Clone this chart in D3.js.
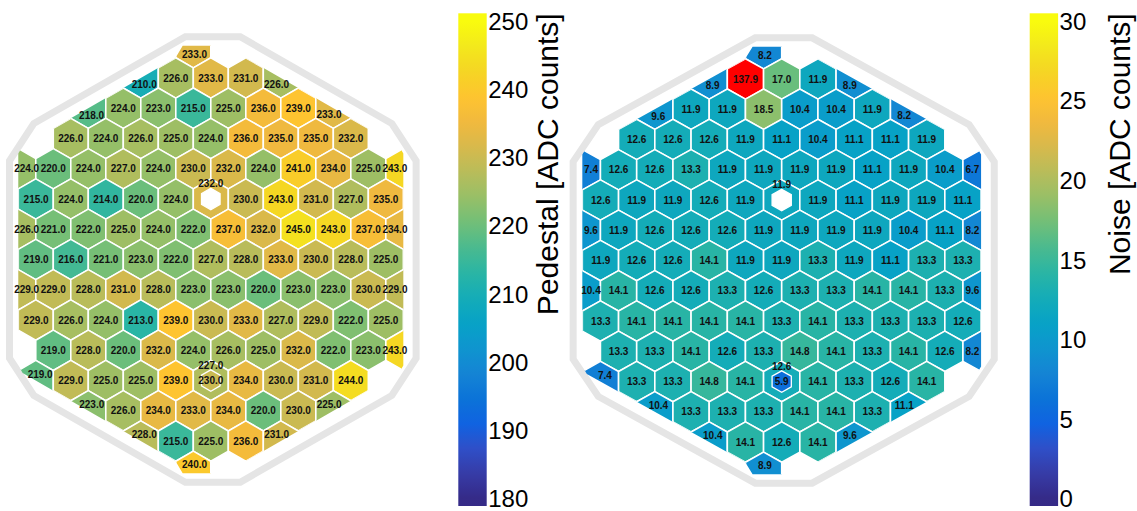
<!DOCTYPE html>
<html><head><meta charset="utf-8">
<script src="https://cdn.jsdelivr.net/npm/d3@7"></script>
<style>body{margin:0;background:#fff}svg{display:block}</style>
</head><body>
<svg id="chart" width="1137" height="511"></svg>
<script>
// ---------------- data ----------------
const rowIds      = [-5,-4,-3,-2,-1, 0, 1, 2, 3, 4, 5, 6, 7, 8, 9];
const rowStartCol = [-1,-2,-4,-4,-6,-5,-6,-5,-6,-5,-5,-5,-4,-2,-1];

const pedestalRows = [
  [233.0],
  [210.0,226.0,233.0,231.0,226.0],
  [218.0,224.0,223.0,215.0,225.0,236.0,239.0,233.0],
  [226.0,224.0,226.0,225.0,224.0,236.0,235.0,235.0,232.0],
  [224.0,220.0,224.0,227.0,224.0,230.0,232.0,224.0,241.0,234.0,225.0,243.0],
  [215.0,224.0,214.0,220.0,224.0,232.0,230.0,243.0,231.0,227.0,235.0],
  [226.0,221.0,222.0,225.0,224.0,222.0,237.0,232.0,245.0,243.0,237.0,234.0],
  [219.0,216.0,221.0,223.0,222.0,227.0,228.0,233.0,230.0,228.0,225.0],
  [229.0,229.0,228.0,231.0,228.0,223.0,223.0,220.0,223.0,223.0,230.0,229.0],
  [229.0,226.0,224.0,213.0,239.0,230.0,233.0,227.0,229.0,222.0,225.0],
  [219.0,228.0,220.0,232.0,224.0,226.0,225.0,232.0,222.0,223.0,243.0],
  [219.0,229.0,225.0,225.0,239.0,227.0,234.0,230.0,231.0,244.0],
  [223.0,226.0,234.0,233.0,234.0,220.0,230.0,225.0],
  [228.0,215.0,225.0,236.0,231.0],
  [240.0]
];

const noiseRows = [
  [8.2],
  [8.9,137.9,17.0,11.9,8.9],
  [9.6,11.9,11.9,18.5,10.4,10.4,11.9,8.2],
  [12.6,12.6,12.6,11.9,11.1,10.4,11.1,11.1,11.9],
  [7.4,12.6,12.6,13.3,11.9,11.9,11.9,11.9,11.1,11.9,10.4,6.7],
  [12.6,11.9,11.9,12.6,11.9,11.9,11.9,11.1,11.9,11.9,11.1],
  [9.6,11.9,12.6,12.6,12.6,11.9,11.9,11.9,11.9,10.4,11.1,8.2],
  [11.9,12.6,12.6,14.1,11.9,11.9,13.3,11.9,11.1,13.3,13.3],
  [10.4,14.1,12.6,12.6,13.3,12.6,13.3,13.3,14.1,14.1,13.3,9.6],
  [13.3,14.1,14.1,14.1,14.1,13.3,14.1,13.3,13.3,13.3,12.6],
  [13.3,13.3,14.1,12.6,13.3,14.8,14.1,13.3,14.1,12.6,8.2],
  [7.4,13.3,13.3,14.8,14.1,12.6,14.1,13.3,12.6,14.1],
  [10.4,13.3,13.3,13.3,14.1,14.1,13.3,11.1],
  [10.4,14.1,12.6,14.1,9.6],
  [8.9]
];

// calibration (small) cells inside big cells
const calibRow = [0, 6];
const calibCol = [0, 0];
const pedestalCalib = [null, 230.0];
const noiseCalib    = [null, 5.9];

const pedestalTicks = [180,190,200,210,220,230,240,250];
const noiseTicks    = [0,5,10,15,20,25,30];
const pedestalTitle = "Pedestal [ADC counts]";
const noiseTitle    = "Noise [ADC counts]";

const parulaStops = ["#352a87","#363ba6","#2f4fc8","#1063e1","#0b73d8","#1484d4","#0f95cf","#07a2c6",
  "#14acb8","#2ab5a4","#4aba8f","#71bf78","#97bf67","#b8bc5a","#d7b94c","#f1b93e","#fec430","#f5d524","#f3e81c","#f9fb0e"];

// ---------------- geometry (lattice units, cell circumradius = 1) ----------------
const SQ3 = Math.sqrt(3);
const HEX = d3.range(6).map(k => { const a = Math.PI / 3 * k - Math.PI / 2; return [Math.cos(a), Math.sin(a)]; });
const SC = [0, 3]; // sensor centre in lattice coords
const clipShape = [[-1.39,-10.6],[1.39,-10.6],[1.75,-9.99],[9.31,-5.625],[9.526,-5.25],[9.526,5.25],[9.31,5.625],
  [1.75,9.99],[1.39,10.6],[-1.39,10.6],[-1.75,9.99],[-9.31,5.625],[-9.526,5.25],[-9.526,-5.25],[-9.31,-5.625],[-1.75,-9.99]]
  .map(([a,b]) => [a + SC[0], b + SC[1]]);
const outlineShape = [[-1.36,-11.04],[1.36,-11.04],[8.86,-6.74],[10.06,-4.89],[10.06,4.89],[8.86,6.74],
  [1.36,11.04],[-1.36,11.04],[-8.86,6.74],[-10.06,4.89],[-10.06,-4.89],[-8.86,-6.74]]
  .map(([a,b]) => [a + SC[0], b + SC[1]]);

const parula = d3.scaleLinear()
  .domain(parulaStops.map((_, i) => i / (parulaStops.length - 1)))
  .range(parulaStops).interpolate(d3.interpolateRgb).clamp(true);

const FONT = "'Liberation Sans', Arial, Helvetica, sans-serif";
const svg = d3.select("#chart");
const defs = svg.append("defs");
const fmt = d3.format(".1f");

const panels = [
  {values: pedestalRows, calib: pedestalCalib, domain: [180, 250], ticks: pedestalTicks, title: pedestalTitle,
   cx: 210.8, cy: 199, kx: 20.21, ky: 20.17, outlineDx: 2, barX: 458.3, titleX: 558.3},
  {values: noiseRows, calib: noiseCalib, domain: [0, 30], ticks: noiseTicks, title: noiseTitle,
   cx: 781.7, cy: 200, kx: 20.93, ky: 20.17, outlineDx: 2, barX: 1029.7, titleX: 1129.7}
];

function centroid(d) {
  const poly = HEX.map(([hx, hy]) => [d.lx + hx, d.ly + hy]);
  let sx = 0, sy = 0, n = 0, tot = 0;
  const N = 30;
  for (let i = 0; i <= N; i++) for (let j = 0; j <= N; j++) {
    const px = d.lx - SQ3 / 2 + SQ3 * i / N, py = d.ly - 1 + 2 * j / N;
    if (!d3.polygonContains(poly, [px, py])) continue;
    tot++;
    if (d3.polygonContains(clipShape, [px, py])) { sx += px; sy += py; n++; }
  }
  if (n === 0) return null;
  if (n === tot) return [d.lx, d.ly];
  return [sx / n, sy / n];
}

panels.forEach((p, idx) => {
  const g = svg.append("g");
  const x = d3.scaleLinear().domain([0, 1]).range([p.cx, p.cx + p.kx]);
  const y = d3.scaleLinear().domain([0, 1]).range([p.cy, p.cy + p.ky]);
  const norm = d3.scaleLinear().domain(p.domain).range([0, 1]).clamp(true);
  const fill = v => v > p.domain[1] ? "#ff0000" : parula(norm(v));
  const toPx = ([a, b]) => [x(a), y(b)];
  const path = pts => "M" + pts.map(toPx).map(q => q.join(",")).join("L") + "Z";

  const clipId = "sensorClip" + idx;
  defs.append("clipPath").attr("id", clipId).append("path").attr("d", path(clipShape));

  g.append("path").attr("d", path(outlineShape))
    .attr("transform", `translate(${p.outlineDx},0)`)
    .attr("fill", "none").attr("stroke", "#e5e5e5").attr("stroke-width", 7).attr("stroke-linejoin", "miter");

  const cells = [];
  rowIds.forEach((r, i) => p.values[i].forEach((v, j) => {
    const c = rowStartCol[i] + j;
    cells.push({r, c, v, lx: SQ3 * (c + (Math.abs(r) % 2) * 0.5), ly: 1.5 * r});
  }));
  const isCalib = d => calibRow.some((cr, k) => cr === d.r && calibCol[k] === d.c);

  const cg = g.append("g").attr("clip-path", `url(#${clipId})`);
  cg.selectAll("path.cell").data(cells).join("path").attr("class", "cell")
    .attr("d", d => path(HEX.map(([hx, hy]) => [d.lx + hx, d.ly + hy])))
    .attr("fill", d => fill(d.v)).attr("stroke", "#fff").attr("stroke-width", 1.6);

  const calibCells = calibRow.map((r, k) => ({r, c: calibCol[k], v: p.calib[k],
    lx: SQ3 * (calibCol[k] + (Math.abs(r) % 2) * 0.5), ly: 1.5 * r}));
  g.selectAll("path.calib").data(calibCells).join("path").attr("class", "calib")
    .attr("d", d => path(HEX.map(([hx, hy]) => [d.lx + hx * 0.53, d.ly + hy * 0.53])))
    .attr("fill", d => d.v == null ? "#fff" : fill(d.v))
    .attr("stroke", "#fff").attr("stroke-width", 1.3);

  const labels = [];
  cells.forEach(d => {
    if (isCalib(d)) { labels.push({t: fmt(d.v), lx: d.lx, ly: d.ly - 0.77}); return; }
    const c = centroid(d);
    if (c) labels.push({t: fmt(d.v), lx: c[0], ly: c[1]});
  });
  calibCells.forEach(d => { if (d.v != null) labels.push({t: fmt(d.v), lx: d.lx, ly: d.ly}); });

  g.append("g").selectAll("text").data(labels).join("text")
    .attr("x", d => x(d.lx)).attr("y", d => y(d.ly)).attr("dy", "0.36em")
    .attr("text-anchor", "middle")
    .style("font-family", FONT).style("font-size", "10px").style("font-weight", "bold").style("fill", "#111")
    .text(d => d.t);

  // colour bar
  const barTop = 13.3, barBot = 506, barW = 28.4;
  const tickY = d3.scaleLinear().domain(p.domain).range([499, 21.7]);
  const grad = defs.append("linearGradient").attr("id", "bar" + idx)
    .attr("x1", 0).attr("y1", 0).attr("x2", 0).attr("y2", 1);
  d3.range(0, 61).forEach(i => {
    const py = barTop + (barBot - barTop) * i / 60;
    grad.append("stop").attr("offset", i / 60).attr("stop-color", parula(norm(tickY.invert(py))));
  });
  g.append("rect").attr("x", p.barX).attr("y", barTop).attr("width", barW).attr("height", barBot - barTop)
    .attr("fill", `url(#bar${idx})`);

  const axis = d3.axisRight(tickY).tickValues(p.ticks).tickSize(0).tickPadding(1.5).tickFormat(d3.format("d"));
  const ag = g.append("g").attr("transform", `translate(${p.barX + barW},0)`).call(axis);
  ag.select(".domain").remove();
  ag.selectAll("text").style("font-family", FONT).style("font-size", "24px").style("fill", "#000");

  g.append("text")
    .attr("transform", `translate(${p.titleX},13.3) rotate(-90)`)
    .attr("text-anchor", "end")
    .style("font-family", FONT).style("font-size", "30px").style("fill", "#000")
    .text(p.title);
});
</script>
</body></html>
